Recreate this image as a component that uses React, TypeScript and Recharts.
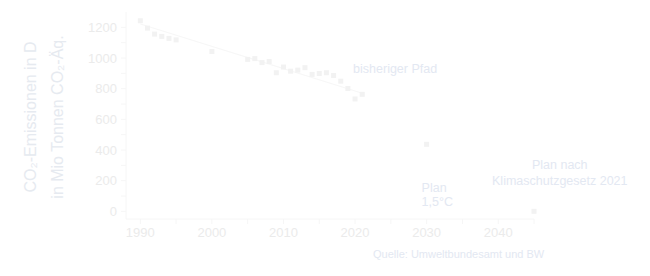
import React from "react";
import { ScatterChart, Scatter, XAxis, YAxis, ReferenceDot } from "recharts";

// historical emissions (Mio t CO2-eq)
const histYears = [1990, 1991, 1992, 1993, 1994, 1995, 2000, 2005, 2006, 2007, 2008, 2009, 2010, 2011, 2012, 2013, 2014, 2015, 2016, 2017, 2018, 2019, 2020, 2021];
const histValues = [1243, 1195, 1156, 1141, 1128, 1118, 1042, 991, 996, 970, 977, 904, 941, 914, 921, 937, 893, 899, 904, 886, 849, 801, 733, 763];

// plan targets
const planYears = [2030, 2045];
const planValues = [437, 0];

// faint trend line drawn over the history
const trendYears = [1990, 2021];
const trendValues = [1222, 770];

const xTicks = [1990, 1995, 2000, 2005, 2010, 2015, 2020, 2025, 2030, 2035, 2040, 2045];
const yTicks = [0, 100, 200, 300, 400, 500, 600, 700, 800, 900, 1000, 1100, 1200];

const histData = histYears.map((year, i) => ({ year, value: histValues[i] }));
const planData = planYears.map((year, i) => ({ year, value: planValues[i] }));
const trendData = trendYears.map((year, i) => ({ year, value: trendValues[i] }));

const FONT = '"Liberation Sans", Arial, sans-serif';
const TICK_COLOR = "#ebebeb";
const AXIS_COLOR = "#f6f6f6";
const NOTE_COLOR = "#e3e8f2";
const MARK_COLOR = "#f2f2f2";

const Square = (props: any) => {
  const { cx, cy } = props;
  if (cx == null || cy == null) return null;
  return <rect x={cx - 2.5} y={cy - 2.5} width={5} height={5} fill={MARK_COLOR} />;
};

const NoShape = () => null;

const note = (lines: string[], anchor: "start" | "middle", lineHeight: number) => (props: any) => {
  const vb = props.viewBox || {};
  const x = vb.x + (vb.width || 0) / 2;
  const y = vb.y + (vb.height || 0) / 2;
  return (
    <text x={x} y={y} textAnchor={anchor} fill={NOTE_COLOR} fontSize={12.5} fontFamily={FONT}>
      {lines.map((l, i) => (
        <tspan key={i} x={x} y={y + i * lineHeight} dominantBaseline="central">
          {l}
        </tspan>
      ))}
    </text>
  );
};

const YTitle = (props: any) => {
  const vb = props.viewBox || { x: 0, y: 0, height: 0 };
  const cy = vb.y + vb.height / 2 + 1.5;
  const x1 = vb.x + 30;
  const x2 = vb.x + 57;
  return (
    <g fill="#e6eaf0" fontSize={16} fontFamily={FONT}>
      <text x={x1} y={cy} textAnchor="middle" dominantBaseline="central" transform={`rotate(-90 ${x1} ${cy})`}>
        CO₂-Emissionen in D
      </text>
      <text x={x2} y={cy} textAnchor="middle" dominantBaseline="central" transform={`rotate(-90 ${x2} ${cy})`}>
        in Mio Tonnen CO₂-Äq.
      </text>
    </g>
  );
};

export default function App() {
  return (
    <div style={{ position: "absolute", left: 0, top: 0, width: 650, height: 276, background: "#fff", fontFamily: FONT }}>
      <ScatterChart width={650} height={276} margin={{ top: 12, right: 116, bottom: 27, left: 0 }}>
        <XAxis
          type="number"
          dataKey="year"
          domain={[1988, 2045]}
          ticks={xTicks}
          tickFormatter={(v: number) => (v % 10 === 0 && v <= 2040 ? String(v) : "")}
          stroke={AXIS_COLOR}
          tickSize={5}
          tickMargin={4}
          height={30}
          tick={{ fill: TICK_COLOR, fontSize: 13, fontFamily: FONT }}
        />
        <YAxis
          type="number"
          dataKey="value"
          domain={[-50, 1300]}
          ticks={yTicks}
          tickFormatter={(v: number) => (v % 200 === 0 ? String(v) : "")}
          stroke={AXIS_COLOR}
          tickSize={5}
          tickMargin={4}
          width={126}
          tick={{ fill: TICK_COLOR, fontSize: 13, fontFamily: FONT }}
          label={{ content: YTitle }}
        />
        <Scatter data={trendData} line={{ stroke: "#f7f7f7", strokeWidth: 1.2 }} shape={NoShape} isAnimationActive={false} />
        <Scatter data={histData} shape={Square} isAnimationActive={false} />
        <Scatter data={planData} shape={Square} isAnimationActive={false} />
        <ReferenceDot x={2025.6} y={928} r={0} fill="none" stroke="none" ifOverflow="visible"
          label={{ content: note(["bisheriger Pfad"], "middle", 15) }} />
        <ReferenceDot x={2029.3} y={154} r={0} fill="none" stroke="none" ifOverflow="visible"
          label={{ content: note(["Plan", "1,5°C"], "start", 14.6) }} />
        <ReferenceDot x={2048.6} y={302} r={0} fill="none" stroke="none" ifOverflow="visible"
          label={{ content: note(["Plan nach", "Klimaschutzgesetz 2021"], "middle", 15.7) }} />
      </ScatterChart>
      <div
        style={{
          position: "absolute",
          left: 373,
          top: 248,
          width: 170,
          textAlign: "center",
          fontSize: 11,
          color: NOTE_COLOR,
          whiteSpace: "nowrap",
        }}
      >
        Quelle: Umweltbundesamt und BW
      </div>
    </div>
  );
}
